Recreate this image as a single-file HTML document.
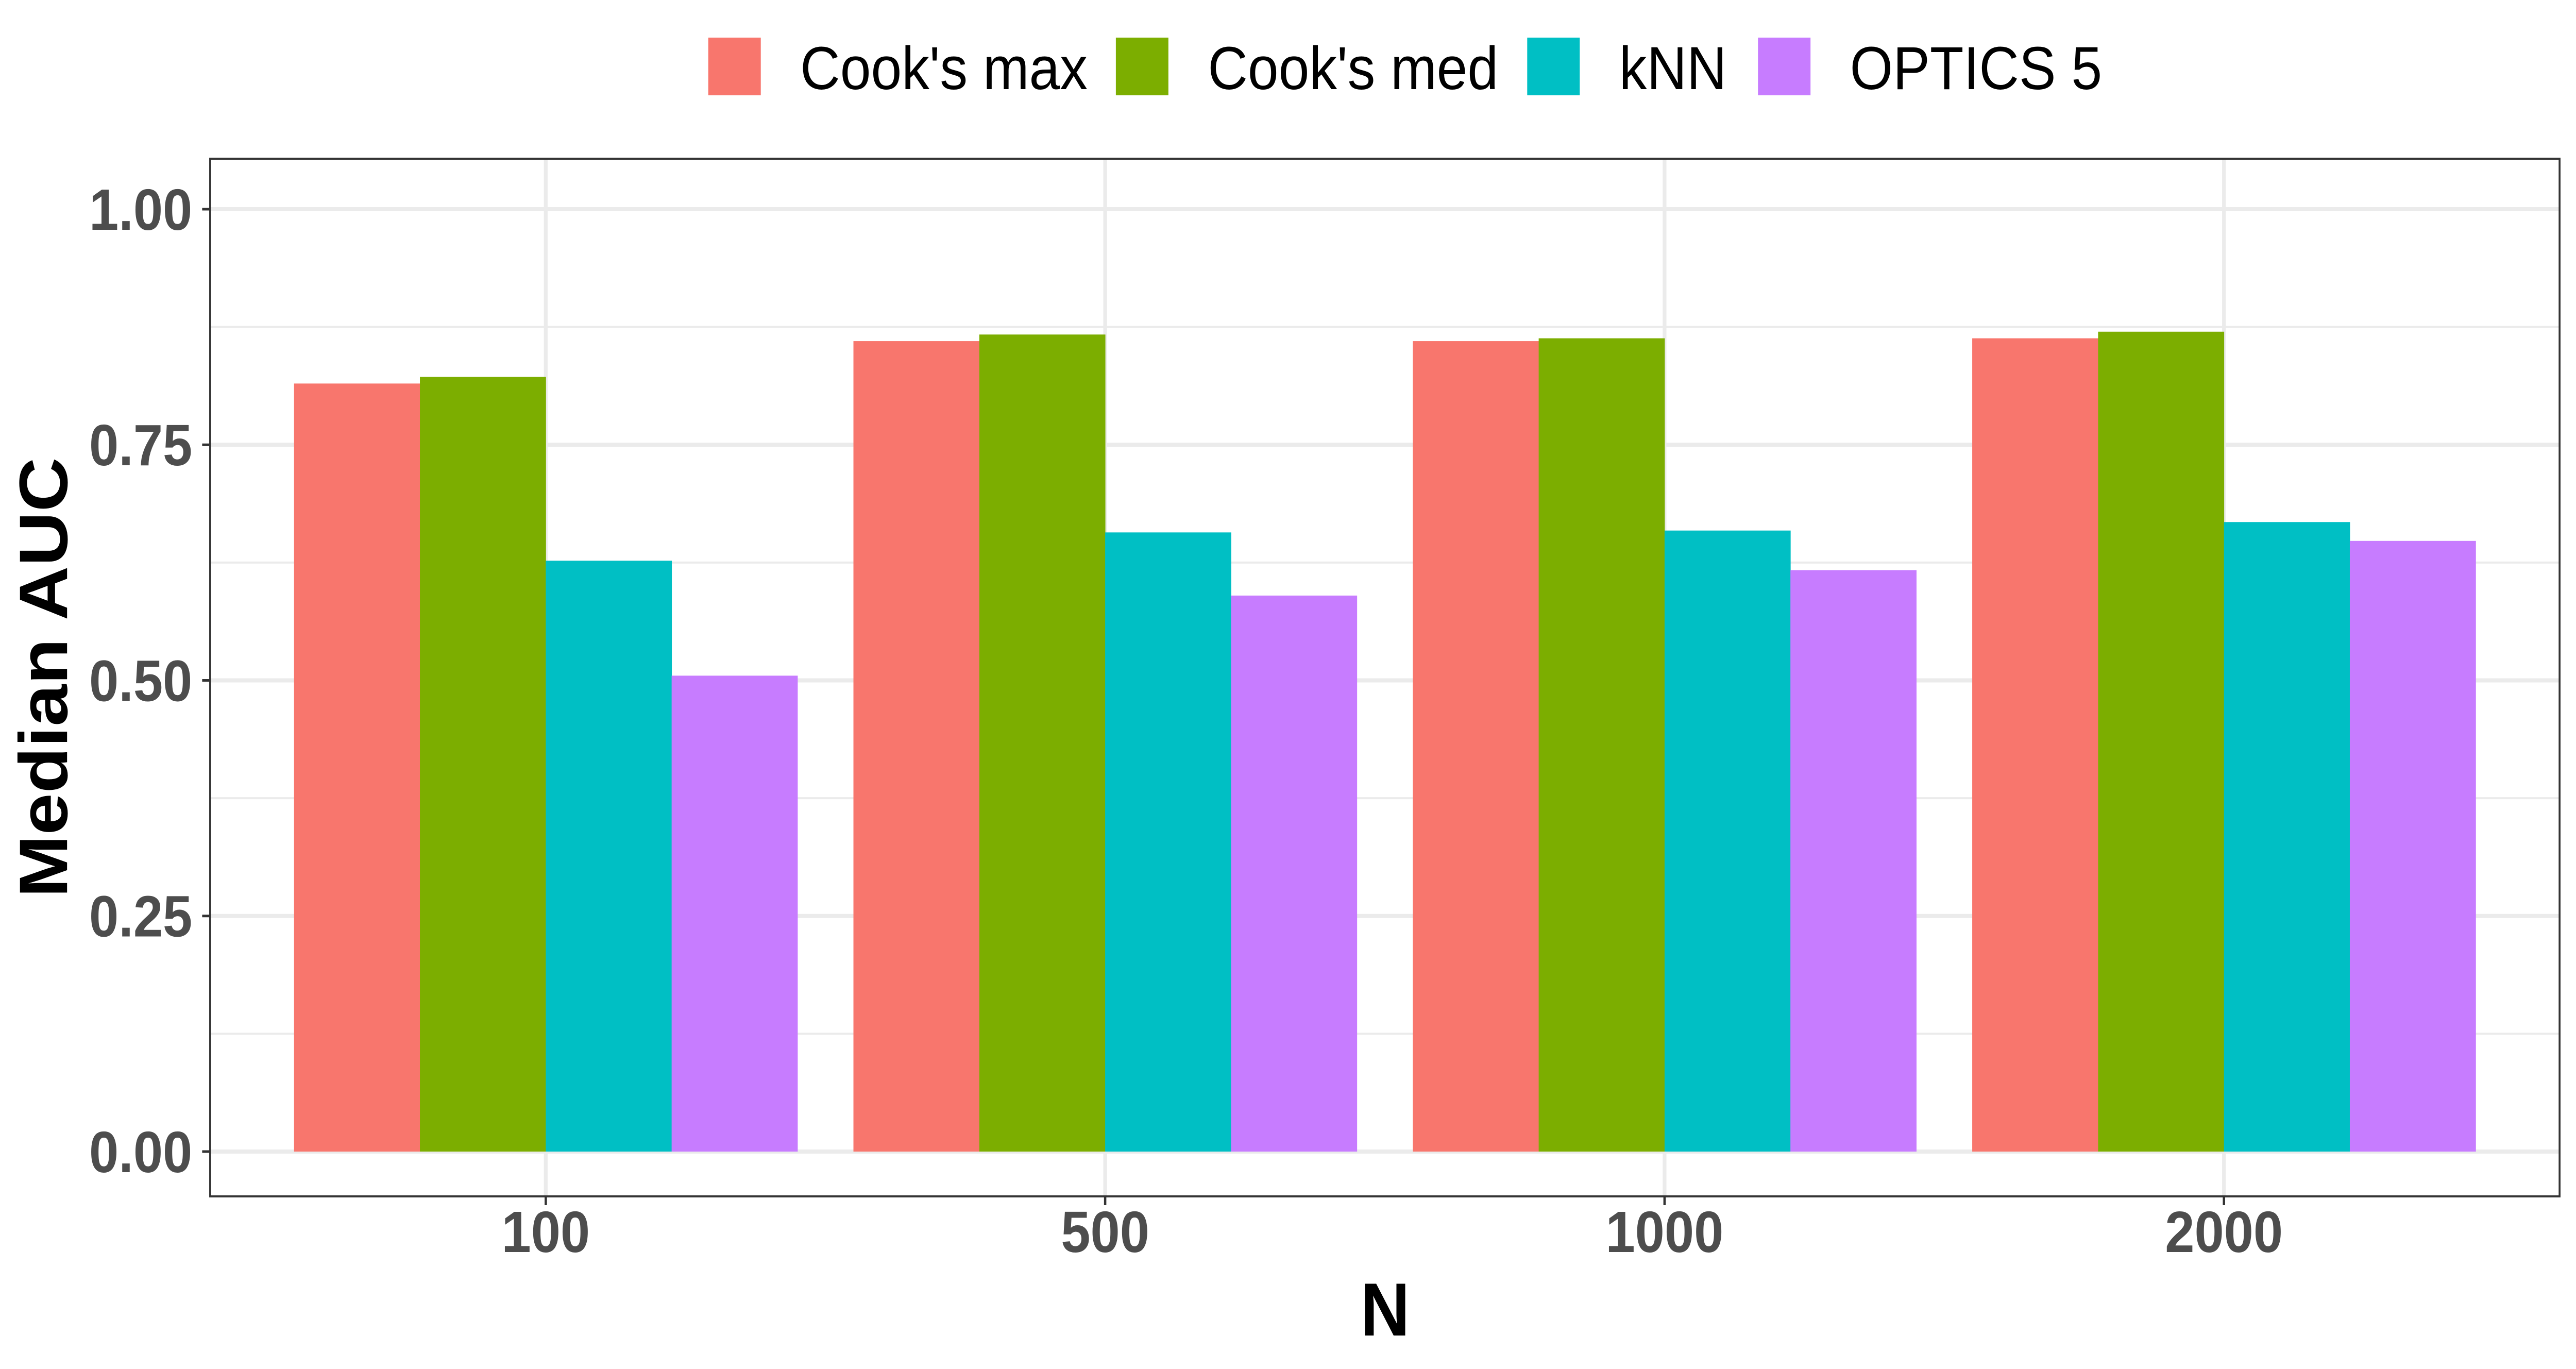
<!DOCTYPE html>
<html><head><meta charset="utf-8"><style>
html,body{margin:0;padding:0;background:#fff;overflow:hidden;width:100%;height:100%;}
svg{display:block;width:100vw;height:100vh;font-family:"Liberation Sans",Arial,sans-serif;}
</style></head><body>
<svg id="chart" viewBox="0 0 5492 2657" preserveAspectRatio="none" xmlns="http://www.w3.org/2000/svg">
<g id="grid"></g>
<g id="bars"></g>
<rect x="448" y="308" width="5009" height="2014" fill="none" stroke="#333333" stroke-width="4"/>
<g id="axes"></g>
<text transform="translate(143,1315) rotate(-90)" text-anchor="middle" font-weight="bold" font-size="146" fill="#000">Median AUC</text>
<text x="2953" y="2592" text-anchor="middle" font-weight="bold" font-size="146" fill="#000">N</text>
<g id="legend"></g>
</svg>
<script>
const categories = ["100","500","1000","2000"];
const seriesNames = ["Cook's max","Cook's med","kNN","OPTICS 5"];
const cooksMax = [0.815,0.860,0.860,0.863];
const cooksMed = [0.822,0.867,0.863,0.870];
const knn = [0.627,0.657,0.659,0.668];
const optics5 = [0.505,0.590,0.617,0.648];
const yTicks = [0,0.25,0.5,0.75,1];
const yTickLabels = ["0.00","0.25","0.50","0.75","1.00"];
const yMinor = [0.125,0.375,0.625,0.875];

const colors = ["#F8766D","#7CAE00","#00BFC4","#C77CFF"];
const series = [cooksMax,cooksMed,knn,optics5];
const NS = "http://www.w3.org/2000/svg";
const L=448,R=5457,T=308,B=2322;
const Y0=2235,Y1=406;
function y(v){return Y0-(Y0-Y1)*v;}
const step=(R-L)/(categories.length+0.2);
function xc(i){return L+step*(0.6+i);}
function mk(tag,attrs,parent){const e=document.createElementNS(NS,tag);for(const k in attrs)e.setAttribute(k,attrs[k]);parent.appendChild(e);return e;}
const grid=document.getElementById('grid'),bars=document.getElementById('bars'),axes=document.getElementById('axes'),legend=document.getElementById('legend');
yMinor.forEach(v=>{const l=mk('line',{x1:L,x2:R,y1:y(v),y2:y(v),stroke:'#ebebeb','stroke-width':4},grid);

});
yTicks.forEach((v,i)=>{const l=mk('line',{x1:L,x2:R,y1:y(v),y2:y(v),stroke:'#ebebeb','stroke-width':8},grid);


const t=mk('line',{x1:431,x2:448,y1:y(v),y2:y(v),stroke:'#333','stroke-width':5},axes);


const tx=mk('text',{x:410,y:y(v)+40,'text-anchor':'end','font-size':113,'font-weight':'bold',fill:'#4d4d4d'},axes);tx.textContent=yTickLabels[i];

});
categories.forEach((c,i)=>{const x=xc(i);
const l=mk('line',{x1:x,x2:x,y1:T,y2:B,stroke:'#ebebeb','stroke-width':8},grid);


const t=mk('line',{x1:x,x2:x,y1:B,y2:B+17,stroke:'#333','stroke-width':5},axes);


const tx=mk('text',{x:x,y:2430,'text-anchor':'middle','font-size':113,'font-weight':'bold',fill:'#4d4d4d'},axes);tx.textContent=c;


const bw=step*0.9/series.length;
series.forEach((s,j)=>{const x0=x-step*0.45+bw*j;
const r=mk('rect',{x:x0,y:y(s[i]),width:bw+0.5,height:y(0)-y(s[i]),fill:colors[j]},bars);

});});
const keyX=[1510,2379,3256,3748];
seriesNames.forEach((n,j)=>{const r=mk('rect',{x:keyX[j],y:73,width:112,height:112,fill:colors[j]},legend);


const t=mk('text',{x:keyX[j]+196,y:173,'font-size':118,fill:'#000'},legend);t.textContent=n;

});
</script>
</body></html>
